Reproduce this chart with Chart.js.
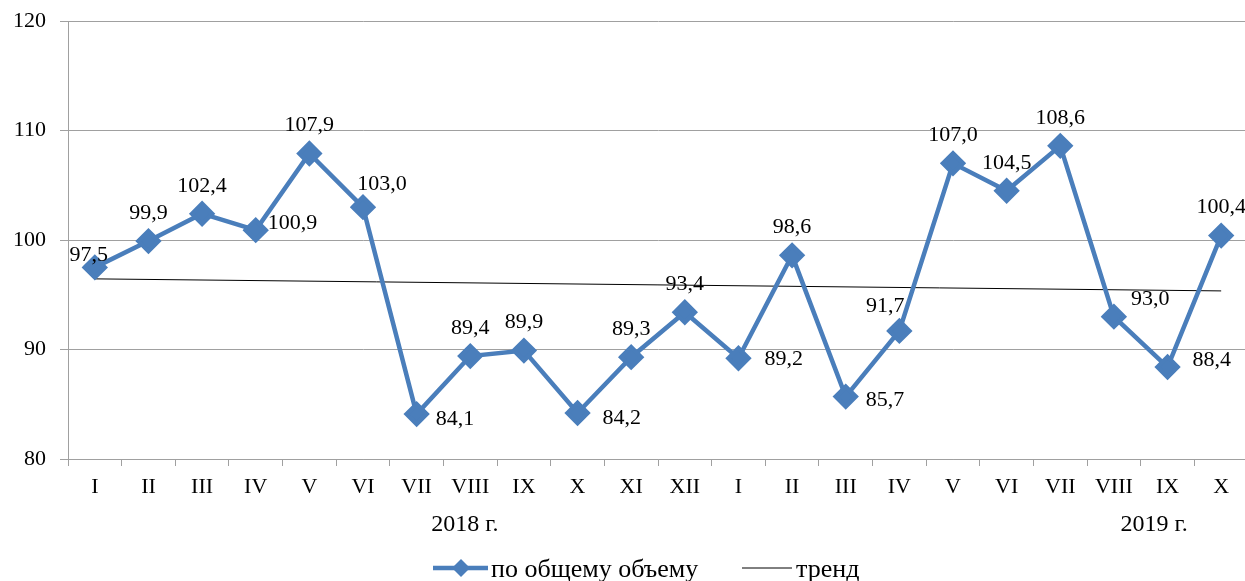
<!DOCTYPE html>
<html>
<head>
<meta charset="utf-8">
<script src="https://cdn.jsdelivr.net/npm/chart.js@4.4.1/dist/chart.umd.min.js"></script>
<style>
  html, body { margin: 0; padding: 0; background: #fff; overflow: hidden; }
  canvas { display: block; }
</style>
</head>
<body>
<canvas id="chart" width="1248" height="581"></canvas>
<script>
const months = ['I', 'II', 'III', 'IV', 'V', 'VI', 'VII', 'VIII', 'IX', 'X', 'XI', 'XII',
                'I', 'II', 'III', 'IV', 'V', 'VI', 'VII', 'VIII', 'IX', 'X'];
const volume = [97.5, 99.9, 102.4, 100.9, 107.9, 103.0, 84.1, 89.4, 89.9, 84.2, 89.3, 93.4,
                89.2, 98.6, 85.7, 91.7, 107.0, 104.5, 108.6, 93.0, 88.4, 100.4];
const trendStart = 96.45;
const trendEnd = 95.35;
const yTicks = [80, 90, 100, 110, 120];
const years = [{ text: '2018 г.', at: 6.9 }, { text: '2019 г.', at: 19.75 }];
const seriesNames = ['по общему объему', 'тренд'];

// label placement per point: [dx, dy, align]
const labelPlace = [
    [-6, -12, 'center'], [0, -28, 'center'], [0, -28, 'center'], [12, -7, 'left'],
    [0, -28, 'center'], [19, -23, 'center'], [19, 5, 'left'], [0, -28, 'center'],
    [0, -28, 'center'], [25, 5, 'left'], [0, -28, 'center'], [0, -28, 'center'],
    [26, 1, 'left'], [0, -28, 'center'], [20, 4, 'left'], [-14, -25, 'center'],
    [0, -28, 'center'], [0, -28, 'center'], [0, -28, 'center'], [17, -17, 'left'],
    [25, -7, 'left'], [0, -28, 'center']
];

const FONT = "'Liberation Serif', 'Times New Roman', serif";
const BLUE = '#4a7ebb';
const GRID = '#a0a0a0';

const trend = months.map((_, i) => i === 0 ? trendStart : (i === months.length - 1 ? trendEnd : null));

const extras = {
    id: 'extras',
    afterDatasetsDraw(chart) {
        const ctx = chart.ctx;
        const meta = chart.getDatasetMeta(0);
        ctx.save();
        ctx.fillStyle = '#000';
        ctx.font = '22px ' + FONT;
        ctx.textBaseline = 'middle';
        meta.data.forEach((pt, i) => {
            const p = labelPlace[i];
            ctx.textAlign = p[2];
            ctx.fillText(volume[i].toFixed(1).replace('.', ','), pt.x + p[0], pt.y + p[1]);
        });

        const xs = chart.scales.x;
        ctx.font = '24px ' + FONT;
        ctx.textAlign = 'center';
        ctx.textBaseline = 'alphabetic';
        years.forEach(y => ctx.fillText(y.text, xs.getPixelForValue(y.at), 531));

        // legend
        const ly = 568;
        ctx.strokeStyle = BLUE;
        ctx.lineWidth = 4.5;
        ctx.beginPath(); ctx.moveTo(433, ly); ctx.lineTo(488, ly); ctx.stroke();
        ctx.fillStyle = BLUE;
        ctx.beginPath();
        ctx.moveTo(461, ly - 9); ctx.lineTo(470, ly); ctx.lineTo(461, ly + 9); ctx.lineTo(452, ly);
        ctx.closePath(); ctx.fill();
        ctx.strokeStyle = '#000';
        ctx.lineWidth = 1;
        ctx.beginPath(); ctx.moveTo(742, ly); ctx.lineTo(792, ly); ctx.stroke();
        ctx.fillStyle = '#000';
        ctx.font = '26px ' + FONT;
        ctx.textAlign = 'left';
        ctx.fillText(seriesNames[0], 491, 577);
        ctx.fillText(seriesNames[1], 796, 577);
        ctx.restore();
    }
};

new Chart(document.getElementById('chart'), {
    type: 'line',
    data: {
        labels: months,
        datasets: [
            { label: seriesNames[0], data: volume, borderColor: BLUE, backgroundColor: BLUE,
              pointBackgroundColor: BLUE, pointBorderColor: BLUE, pointStyle: 'rectRot',
              pointRadius: 10, borderWidth: 4.5, tension: 0, order: 1 },
            { label: seriesNames[1], data: trend, borderColor: '#000', borderWidth: 1,
              pointRadius: 0, spanGaps: true, order: 2 }
        ]
    },
    options: {
        responsive: false, animation: false,
        layout: { autoPadding: false, padding: { top: 21, left: 0, right: 0, bottom: 0 } },
        plugins: { legend: { display: false }, tooltip: { enabled: false } },
        scales: {
            x: {
                offset: true,
                afterFit: s => { s.height = 122; s.paddingLeft = 0; s.paddingRight = 0; },
                grid: { offset: true, drawOnChartArea: false, drawTicks: true, tickLength: 7, color: GRID },
                border: { display: true, color: GRID },
                ticks: { color: '#000', font: { family: FONT, size: 22 }, padding: 8, maxRotation: 0, autoSkip: false }
            },
            y: {
                min: 80, max: 120,
                afterFit: s => { s.width = 68; s.paddingTop = 0; s.paddingBottom = 0; },
                afterBuildTicks: s => { s.ticks = yTicks.map(v => ({ value: v })); },
                grid: { color: GRID, tickLength: 8 },
                border: { display: true, color: GRID },
                ticks: { color: '#000', font: { family: FONT, size: 22 }, padding: 14 }
            }
        }
    },
    plugins: [extras]
});
</script>
</body>
</html>
